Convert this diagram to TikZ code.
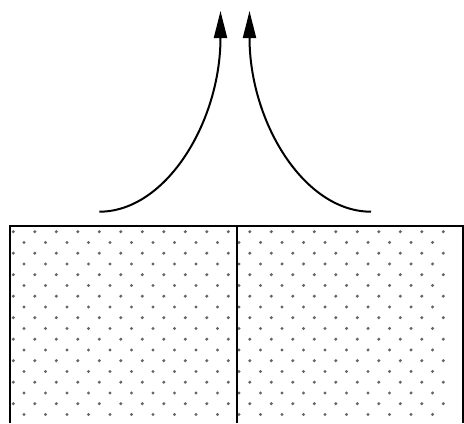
\documentclass[tikz,border=0pt]{standalone}
\usetikzlibrary{arrows.meta}
\begin{document}
\begin{tikzpicture}[x=0.5pt,y=-0.5pt,
  edge/.style={line width=1pt},
  flow/.style={line width=1pt,-{Triangle[length=13.5pt,width=6.5pt]}},
  dot/.style={fill=black!60,draw=none}]
\useasboundingbox (0,0) rectangle (464,423);
% dots
\foreach \r in {0,...,17}{
  \pgfmathsetmacro{\yy}{231.7+10.75*\r}
  \ifodd\r
    \foreach \c in {0,...,19}{ \fill[dot] (24+21.5*\c,\yy) circle (0.85pt); }
  \else
    \foreach \c in {0,...,20}{ \fill[dot] (13.3+21.5*\c,\yy) circle (0.85pt); }
  \fi
}
% box
\coordinate (bl) at (9.5,423);
\coordinate (tl) at (9.5,225.5);
\coordinate (tr) at (463,225.5);
\coordinate (br) at (463,423);
\coordinate (mt) at (236.7,225.5);
\coordinate (mb) at (236.7,423);
\draw[edge] (bl) -- (tl) -- (tr) -- (br);
\draw[edge] (mt) -- (mb);
% arrows
\coordinate (ls) at (99.3,211.7);
\coordinate (le) at (220.5,11);
\coordinate (rs) at (371,211.7);
\coordinate (re) at (249.5,11);
\draw[flow] (ls) .. controls (166,211.7) and (220.5,122) .. (le);
\draw[flow] (rs) .. controls (304,211.7) and (249.5,122) .. (re);
\end{tikzpicture}
\end{document}
